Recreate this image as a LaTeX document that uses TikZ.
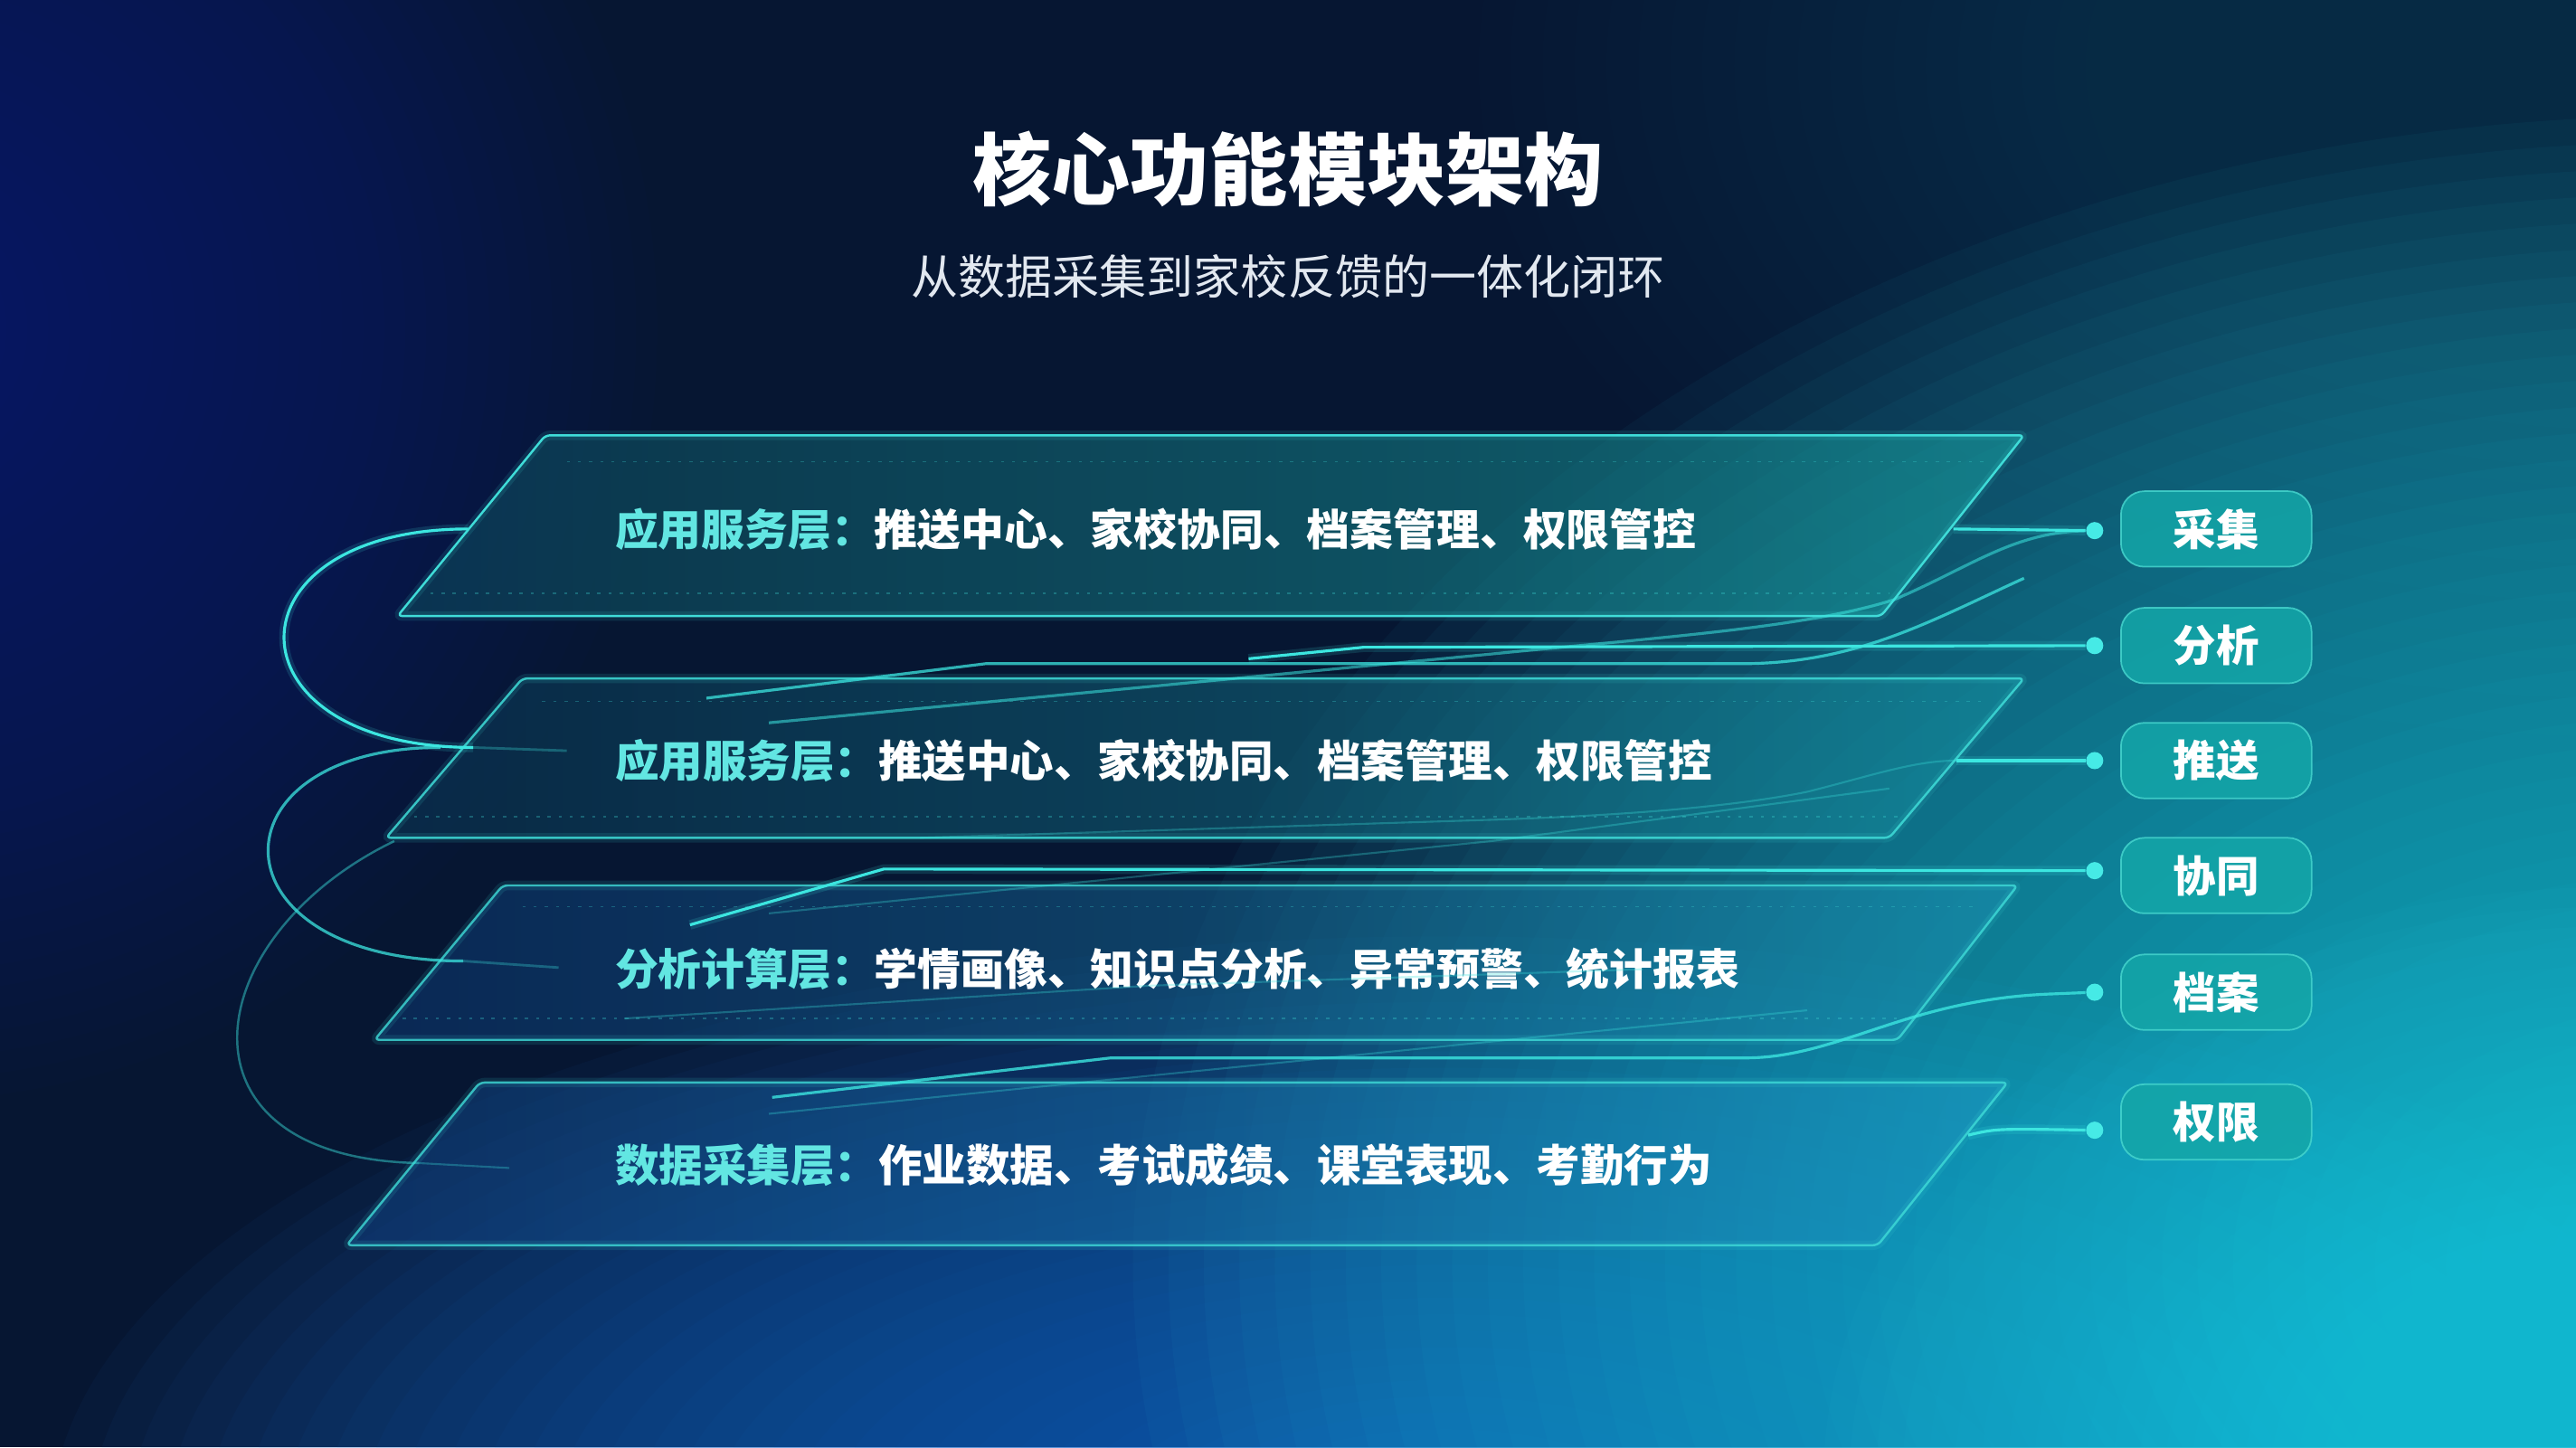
\documentclass[tikz,border=0pt]{standalone}
\usepackage{fontspec}
\setmainfont{Noto Sans CJK SC}
\definecolor{bgbase}{HTML}{061632}
\definecolor{glowblue}{HTML}{0D2C86}
\definecolor{glowteal}{HTML}{24CDE0}
\definecolor{glowbot}{HTML}{1D6AC8}
\definecolor{glowtop}{HTML}{0C4660}
\definecolor{glowcorner}{HTML}{2CD2EA}
\definecolor{linec}{HTML}{3CE6E0}
\definecolor{edgec}{HTML}{3FDCD8}
\definecolor{dotc}{HTML}{46EAE6}
\definecolor{tagfill}{HTML}{14A6A8}
\definecolor{tagedge}{HTML}{48D8D0}
\definecolor{cyanlbl}{HTML}{62E6E2}
\definecolor{subc}{HTML}{E2E8F0}
\definecolor{pa}{HTML}{0F4C5E}
\definecolor{pb}{HTML}{18A4A4}
\definecolor{pc}{HTML}{0C3854}
\definecolor{pd}{HTML}{1690A0}
\definecolor{pe}{HTML}{0E3872}
\definecolor{pf}{HTML}{1A90B0}
\definecolor{pg}{HTML}{103E7E}
\definecolor{ph}{HTML}{1C96C0}
\begin{document}
\begin{tikzpicture}[x=0.1816mm,y=-0.1816mm,
  lbl/.style={anchor=west, text=white, font=\fontsize{13.6pt}{16pt}\selectfont\bfseries, inner sep=0pt},
  lblb/.style={lbl, font=\fontsize{13.8pt}{16pt}\selectfont\bfseries},
  tagbox/.style={rounded corners=2.6mm, minimum width=21.07mm, minimum height=8.35mm, fill=tagfill, fill opacity=0.85, text opacity=1, draw=tagedge, draw opacity=0.8, line width=0.5pt, text=white, font=\fontsize{13.5pt}{16pt}\selectfont\bfseries, inner sep=0pt},
  dotn/.style={circle, fill=dotc, minimum size=1.9mm, inner sep=0pt},
  conn/.style={draw=linec, line width=0.9pt},
  connglow/.style={draw=linec, line width=3pt, draw opacity=0.15},
  faint/.style={draw=linec, line width=0.6pt, draw opacity=0.3},
  pedge/.style={draw=edgec, line width=0.7pt, rounded corners=1.5pt},
  pglow/.style={draw=edgec, line width=3pt, draw opacity=0.12, rounded corners=1.5pt},
  pdots/.style={draw=edgec, line width=0.5pt, draw opacity=0.3, dash pattern=on 1pt off 2.5pt},
]
% background
\useasboundingbox (0,0) rectangle (1568,881);
\fill[bgbase] (0,0) rectangle (1568,881);
\foreach \k in {1,...,36} {
  \fill[glowtop, fill opacity=0.035] (1600,40) ellipse ({19.44*\k} and {11.67*\k});
}
\foreach \k in {1,...,36} {
  \fill[glowblue, fill opacity=0.035] (-60,200) ellipse ({12.78*\k} and {13.06*\k});
}
\foreach \k in {1,...,36} {
  \fill[glowbot, fill opacity=0.05] (880,930) ellipse ({23.6*\k} and {10*\k});
}
\foreach \k in {1,...,44} {
  \fill[glowteal, fill opacity=0.042] (1640,770) ellipse ({21.6*\k} and {15.9*\k});
}
\foreach \k in {1,...,30} {
  \fill[glowcorner, fill opacity=0.035] (1590,900) ellipse ({16*\k} and {12*\k});
}

% title
\node[text=white, font=\fontsize{24.8pt}{28pt}\selectfont\bfseries] (title) at (784,103) {核心功能模块架构};
\node[text=subc, font=\fontsize{14.8pt}{18pt}\selectfont] (subtitle) at (784,168) {从数据采集到家校反馈的一体化闭环};

% panels
\shade[left color=pa, right color=pb, fill opacity=0.55, rounded corners=1.5pt] (332,265) -- (1232,265) -- (1145,375) -- (242,375) -- cycle;
\draw[pglow] (332,265) -- (1232,265) -- (1145,375) -- (242,375) -- cycle;
\draw[pedge] (332,265) -- (1232,265) -- (1145,375) -- (242,375) -- cycle;
\draw[pdots] (345,281) -- (1210,281);
\draw[pdots] (262,361) -- (1150,361);

\shade[left color=pc, right color=pd, fill opacity=0.55, rounded corners=1.5pt] (318,413) -- (1232,413) -- (1150,510) -- (235,510) -- cycle;
\draw[pglow] (318,413) -- (1232,413) -- (1150,510) -- (235,510) -- cycle;
\draw[pedge, draw opacity=0.85] (318,413) -- (1232,413) -- (1150,510) -- (235,510) -- cycle;
\draw[pdots] (330,427) -- (1210,427);
\draw[pdots] (252,497) -- (1155,497);

\shade[left color=pe, right color=pf, fill opacity=0.55, rounded corners=1.5pt] (306,539) -- (1228,539) -- (1155,633) -- (228,633) -- cycle;
\draw[pglow] (306,539) -- (1228,539) -- (1155,633) -- (228,633) -- cycle;
\draw[pedge, draw opacity=0.8] (306,539) -- (1228,539) -- (1155,633) -- (228,633) -- cycle;
\draw[pdots] (318,552) -- (1205,552);
\draw[pdots] (245,620) -- (1160,620);

\shade[left color=pg, right color=ph, fill opacity=0.55, rounded corners=1.5pt] (292,659) -- (1222,659) -- (1143,758) -- (211,758) -- cycle;
\draw[pglow] (292,659) -- (1222,659) -- (1143,758) -- (211,758) -- cycle;
\draw[pedge, draw opacity=0.8] (292,659) -- (1222,659) -- (1143,758) -- (211,758) -- cycle;

% left loops
\coordinate (l1a) at (285,322);
\coordinate (l1b) at (288,455);
\coordinate (l1c) at (345,457);
\coordinate (l2a) at (268,455);
\coordinate (l2b) at (282,585);
\coordinate (l2c) at (340,589);
\coordinate (l3a) at (240,512);
\coordinate (l3b) at (255,708);
\coordinate (l3c) at (310,711);
\draw[connglow] (l1a) .. controls (135,322) and (135,455) .. (l1b);
\draw[conn] (l1a) .. controls (135,322) and (135,455) .. (l1b);
\draw[faint, line width=0.8pt] (l1b) -- (l1c);
\draw[conn, draw opacity=0.75] (l2a) .. controls (126,455) and (126,585) .. (l2b);
\draw[faint, line width=0.8pt] (l2b) -- (l2c);
\draw[conn, line width=0.7pt, draw opacity=0.45] (l3a) .. controls (120,570) and (100,705) .. (l3b);
\draw[faint] (l3b) -- (l3c);

% text in panels
\node[lbl] (t1) at (374,322) {\textcolor{cyanlbl}{应用服务层：}推送中心、家校协同、档案管理、权限管控};
\node[lblb] (t2) at (374,463) {\textcolor{cyanlbl}{应用服务层：}推送中心、家校协同、档案管理、权限管控};
\node[lbl] (t3) at (374,590) {\textcolor{cyanlbl}{分析计算层：}学情画像、知识点分析、异常预警、统计报表};
\node[lblb] (t4) at (374,709) {\textcolor{cyanlbl}{数据采集层：}作业数据、考试成绩、课堂表现、考勤行为};

% tags
\node[tagbox] (g1) at (1349,322) {采集};
\node[tagbox] (g2) at (1349,393) {分析};
\node[tagbox] (g3) at (1349,463) {推送};
\node[tagbox] (g4) at (1349,533) {协同};
\node[tagbox] (g5) at (1349,604) {档案};
\node[tagbox] (g6) at (1349,683) {权限};

% dots
\node[dotn] (d1) at (1275,323) {};
\node[dotn] (d2) at (1275,393) {};
\node[dotn] (d3) at (1275,463) {};
\node[dotn] (d4) at (1275,530) {};
\node[dotn] (d5) at (1275,604) {};
\node[dotn] (d6) at (1275,688) {};

% connector start points
\coordinate (e1) at (1189,322);
\coordinate (e3) at (1191,463);
\coordinate (e6) at (1198,691);
\coordinate (c1) at (468,440);
\coordinate (a1) at (430,425);
\coordinate (afree) at (1232,352);
\coordinate (b1) at (760,401);
\coordinate (s1) at (420,563);
\coordinate (f1) at (470,668);
\coordinate (p1) at (560,510);

% connectors
\draw[connglow] (e1) -- (d1);
\draw[conn] (e1) -- (d1);
\draw[conn, draw opacity=0.55] (c1) -- (909,398) .. controls (1010,388) and (1100,382) .. (1153,365) .. controls (1200,345) and (1225,324) .. (d1);
\draw[conn, draw opacity=0.75] (a1) -- (600,404) -- (1060,404) .. controls (1130,404) and (1175,378) .. (afree);
\draw[connglow] (b1) -- (830,394) -- (d2);
\draw[conn] (b1) -- (830,394) -- (d2);
\draw[connglow] (e3) -- (d3);
\draw[conn] (e3) -- (d3);
\draw[faint] (p1) -- (909,499) .. controls (1000,496) and (1060,490) .. (1100,482) .. controls (1140,472) and (1165,463) .. (e3);
\draw[connglow] (s1) -- (538,529) -- (d4);
\draw[conn] (s1) -- (538,529) -- (d4);
\draw[conn, draw opacity=0.8] (f1) -- (676,644) -- (1062,644) .. controls (1120,644) and (1160,608) .. (1250,605) -- (d5);
\draw[connglow] (e6) .. controls (1215,687) .. (d6);
\draw[conn] (e6) .. controls (1215,687) .. (d6);
% faint diagonal traces
\draw[faint] (468,556) -- (908,512) -- (1150,480);
\draw[faint] (468,678) -- (908,634) -- (1100,615);
\draw[faint] (380,620) -- (700,600) -- (1000,590);
\end{tikzpicture}
\end{document}
